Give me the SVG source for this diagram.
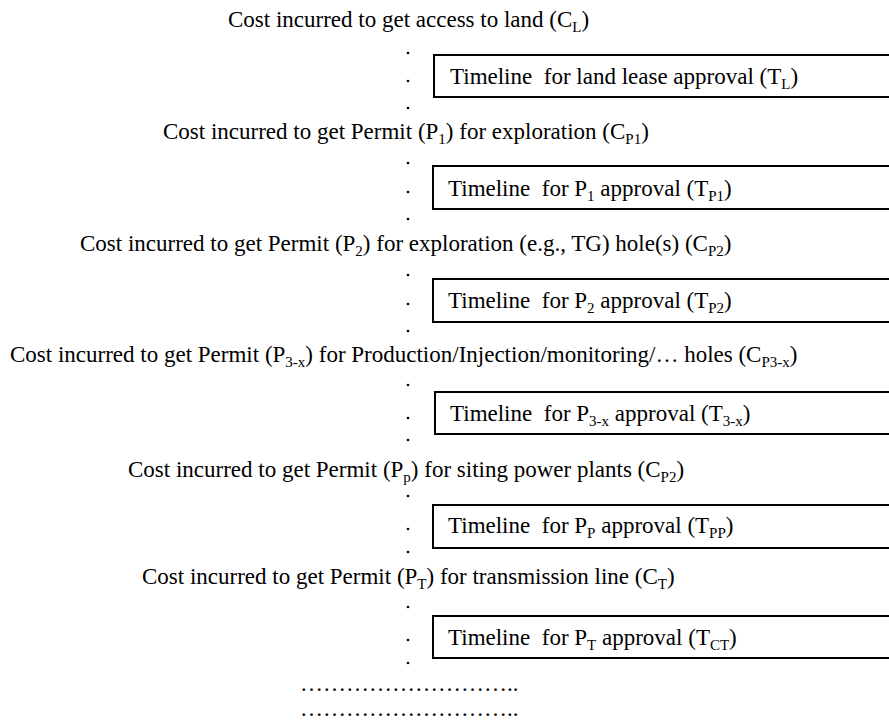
<svg xmlns="http://www.w3.org/2000/svg" width="889" height="721" viewBox="0 0 889 721">
<style>
text{font-family:"Liberation Serif","Times New Roman",serif;font-size:23px;fill:#000;white-space:pre}
.s{font-size:15px}
.box{fill:#fff;stroke:#000;stroke-width:2}
.dot{fill:#000}
</style>
<rect x="0" y="0" width="889" height="721" fill="#fff"/>
<g id="connectors">
<circle class="dot" cx="408" cy="53" r="1.3"/><circle class="dot" cx="408" cy="81" r="1.3"/><circle class="dot" cx="408" cy="108" r="1.3"/>
<circle class="dot" cx="408" cy="163" r="1.3"/><circle class="dot" cx="408" cy="192" r="1.3"/><circle class="dot" cx="408" cy="219" r="1.3"/>
<circle class="dot" cx="408" cy="275" r="1.3"/><circle class="dot" cx="408" cy="304" r="1.3"/><circle class="dot" cx="408" cy="331" r="1.3"/>
<circle class="dot" cx="408" cy="385" r="1.3"/><circle class="dot" cx="408" cy="418" r="1.3"/><circle class="dot" cx="408" cy="440" r="1.3"/>
<circle class="dot" cx="408" cy="496" r="1.3"/><circle class="dot" cx="408" cy="529" r="1.3"/><circle class="dot" cx="408" cy="552" r="1.3"/>
<circle class="dot" cx="408" cy="607" r="1.3"/><circle class="dot" cx="408" cy="640" r="1.3"/><circle class="dot" cx="408" cy="663" r="1.3"/>
</g>
<g id="cost-land"><text x="228" y="27">Cost incurred to get access to land (C<tspan class="s" dy="5">L</tspan><tspan dy="-5">)</tspan></text></g>
<g id="time-land"><rect class="box" x="434" y="55" width="480" height="42"/><text x="450" y="84">Timeline  for land lease approval (T<tspan class="s" dy="5">L</tspan><tspan dy="-5">)</tspan></text></g>
<g id="cost-p1"><text x="163" y="139">Cost incurred to get Permit (P<tspan class="s" dy="5">1</tspan><tspan dy="-5">) for exploration (C</tspan><tspan class="s" dy="5">P1</tspan><tspan dy="-5">)</tspan></text></g>
<g id="time-p1"><rect class="box" x="433" y="166" width="480" height="43"/><text x="448" y="196">Timeline  for P<tspan class="s" dy="5">1</tspan><tspan dy="-5"> approval (T</tspan><tspan class="s" dy="5">P1</tspan><tspan dy="-5">)</tspan></text></g>
<g id="cost-p2"><text x="80" y="251">Cost incurred to get Permit (P<tspan class="s" dy="5">2</tspan><tspan dy="-5">) for exploration (e.g., TG) hole(s) (C</tspan><tspan class="s" dy="5">P2</tspan><tspan dy="-5">)</tspan></text></g>
<g id="time-p2"><rect class="box" x="433" y="279" width="480" height="43"/><text x="448" y="308">Timeline  for P<tspan class="s" dy="5">2</tspan><tspan dy="-5"> approval (T</tspan><tspan class="s" dy="5">P2</tspan><tspan dy="-5">)</tspan></text></g>
<g id="cost-p3x"><text x="10" y="362">Cost incurred to get Permit (P<tspan class="s" dy="5">3-x</tspan><tspan dy="-5">) for Production/Injection/monitoring/… holes (C</tspan><tspan class="s" dy="5">P3-x</tspan><tspan dy="-5">)</tspan></text></g>
<g id="time-p3x"><rect class="box" x="435" y="392" width="480" height="42"/><text x="450" y="421">Timeline  for P<tspan class="s" dy="5">3-x</tspan><tspan dy="-5"> approval (T</tspan><tspan class="s" dy="5">3-x</tspan><tspan dy="-5">)</tspan></text></g>
<g id="cost-pp"><text x="128" y="477">Cost incurred to get Permit (P<tspan class="s" dy="5">p</tspan><tspan dy="-5">) for siting power plants (C</tspan><tspan class="s" dy="5">P2</tspan><tspan dy="-5">)</tspan></text></g>
<g id="time-pp"><rect class="box" x="433" y="505" width="480" height="43"/><text x="448" y="533">Timeline  for P<tspan class="s" dy="5">P</tspan><tspan dy="-5"> approval (T</tspan><tspan class="s" dy="5">PP</tspan><tspan dy="-5">)</tspan></text></g>
<g id="cost-pt"><text x="142" y="584">Cost incurred to get Permit (P<tspan class="s" dy="5">T</tspan><tspan dy="-5">) for transmission line (C</tspan><tspan class="s" dy="5">T</tspan><tspan dy="-5">)</tspan></text></g>
<g id="time-pt"><rect class="box" x="433" y="616" width="480" height="42"/><text x="448" y="645">Timeline  for P<tspan class="s" dy="5">T</tspan><tspan dy="-5"> approval (T</tspan><tspan class="s" dy="5">CT</tspan><tspan dy="-5">)</tspan></text></g>
<g id="more">
<text x="300" y="691">………………………..</text>
<text x="300" y="716">………………………..</text>
</g>
</svg>
